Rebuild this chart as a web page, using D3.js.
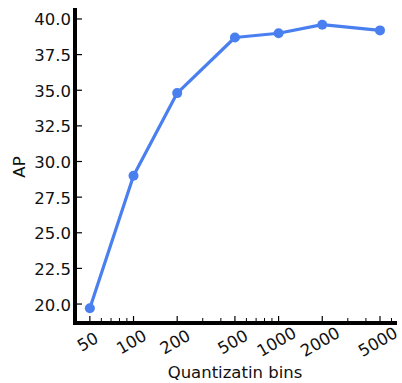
<!DOCTYPE html>
<html lang="en">
<head>
    <meta charset="UTF-8">
    <title>AP vs quantization bins</title>
    <script src="https://d3js.org/d3.v7.min.js"></script>
    <style>
        body {
            margin: 0;
            background: #fff;
            font-family: 'DejaVu Sans', sans-serif;
        }
        svg { display: block; }
        .tick-label { font-size: 16.5px; fill: #111; }
        .axis-title { font-size: 16.5px; fill: #111; }
    </style>
</head>
<body>
    <svg></svg>
    <script>
        // Data
        const bins = [50, 100, 200, 500, 1000, 2000, 5000];
        const ap = [19.7, 29.0, 34.8, 38.7, 39.0, 39.6, 39.2];
        const xTickLabels = [50, 100, 200, 500, 1000, 2000, 5000];
        const yTicks = [20.0, 22.5, 25.0, 27.5, 30.0, 32.5, 35.0, 37.5, 40.0];

        const width = 402, height = 383;
        const svg = d3.select("svg").attr("width", width).attr("height", height);

        // plot box
        const plotLeft = 75, plotRight = 397, plotTop = 8, plotBottom = 323;

        const x = d3.scaleLog().domain([39.5, 6550]).range([plotLeft, plotRight]);
        const y = d3.scaleLinear().domain([18.67, 40.77]).range([plotBottom, plotTop]);

        // minor log ticks 50..6000
        const minor = [];
        [10, 100, 1000].forEach(dec => {
            for (let k = 1; k <= 9; k++) {
                const v = k * dec;
                if (v >= 50 && v <= 6000 && !xTickLabels.includes(v)) minor.push(v);
            }
        });

        // x ticks (inward)
        svg.append("g").selectAll("line")
            .data(minor)
            .enter().append("line")
            .attr("x1", d => x(d)).attr("x2", d => x(d))
            .attr("y1", plotBottom).attr("y2", plotBottom - 5)
            .attr("stroke", "#000").attr("stroke-width", 1);

        svg.append("g").selectAll("line")
            .data(xTickLabels)
            .enter().append("line")
            .attr("x1", d => x(d)).attr("x2", d => x(d))
            .attr("y1", plotBottom).attr("y2", plotBottom - 7)
            .attr("stroke", "#000").attr("stroke-width", 1.2);

        svg.append("g").selectAll("text")
            .data(xTickLabels)
            .enter().append("text")
            .attr("class", "tick-label")
            .attr("text-anchor", "middle")
            .attr("dominant-baseline", "central")
            .attr("transform", d => `translate(${x(d) - 2},${plotBottom + 19}) rotate(-30)`)
            .text(d => d);

        // y ticks (inward) + labels
        svg.append("g").selectAll("line")
            .data(yTicks)
            .enter().append("line")
            .attr("x1", plotLeft).attr("x2", plotLeft + 7)
            .attr("y1", d => y(d)).attr("y2", d => y(d))
            .attr("stroke", "#000").attr("stroke-width", 1.2);

        svg.append("g").selectAll("text")
            .data(yTicks)
            .enter().append("text")
            .attr("class", "tick-label")
            .attr("text-anchor", "end")
            .attr("dominant-baseline", "central")
            .attr("x", plotLeft - 4)
            .attr("y", d => y(d) + 1)
            .text(d => d.toFixed(1));

        // spines
        svg.append("line")
            .attr("x1", plotLeft).attr("x2", plotLeft)
            .attr("y1", plotTop).attr("y2", plotBottom + 2)
            .attr("stroke", "#000").attr("stroke-width", 4);
        svg.append("line")
            .attr("x1", plotLeft - 2).attr("x2", plotRight)
            .attr("y1", plotBottom).attr("y2", plotBottom)
            .attr("stroke", "#000").attr("stroke-width", 4);

        // series
        const pts = bins.map((b, i) => [b, ap[i]]);
        const line = d3.line().x(d => x(d[0])).y(d => y(d[1]));
        svg.append("path")
            .datum(pts)
            .attr("d", line)
            .attr("fill", "none")
            .attr("stroke", "#4a7ff0")
            .attr("stroke-width", 3.2)
            .attr("stroke-linejoin", "round");
        svg.append("g").selectAll("circle")
            .data(pts)
            .enter().append("circle")
            .attr("cx", d => x(d[0]))
            .attr("cy", d => y(d[1]))
            .attr("r", 5)
            .attr("fill", "#4a7ff0");

        // axis titles
        svg.append("text")
            .attr("class", "axis-title")
            .attr("text-anchor", "middle")
            .attr("x", 235).attr("y", 378)
            .text("Quantizatin bins");
        svg.append("text")
            .attr("class", "axis-title")
            .attr("text-anchor", "middle")
            .attr("transform", "translate(25,167) rotate(-90)")
            .text("AP");
    </script>
</body>
</html>
